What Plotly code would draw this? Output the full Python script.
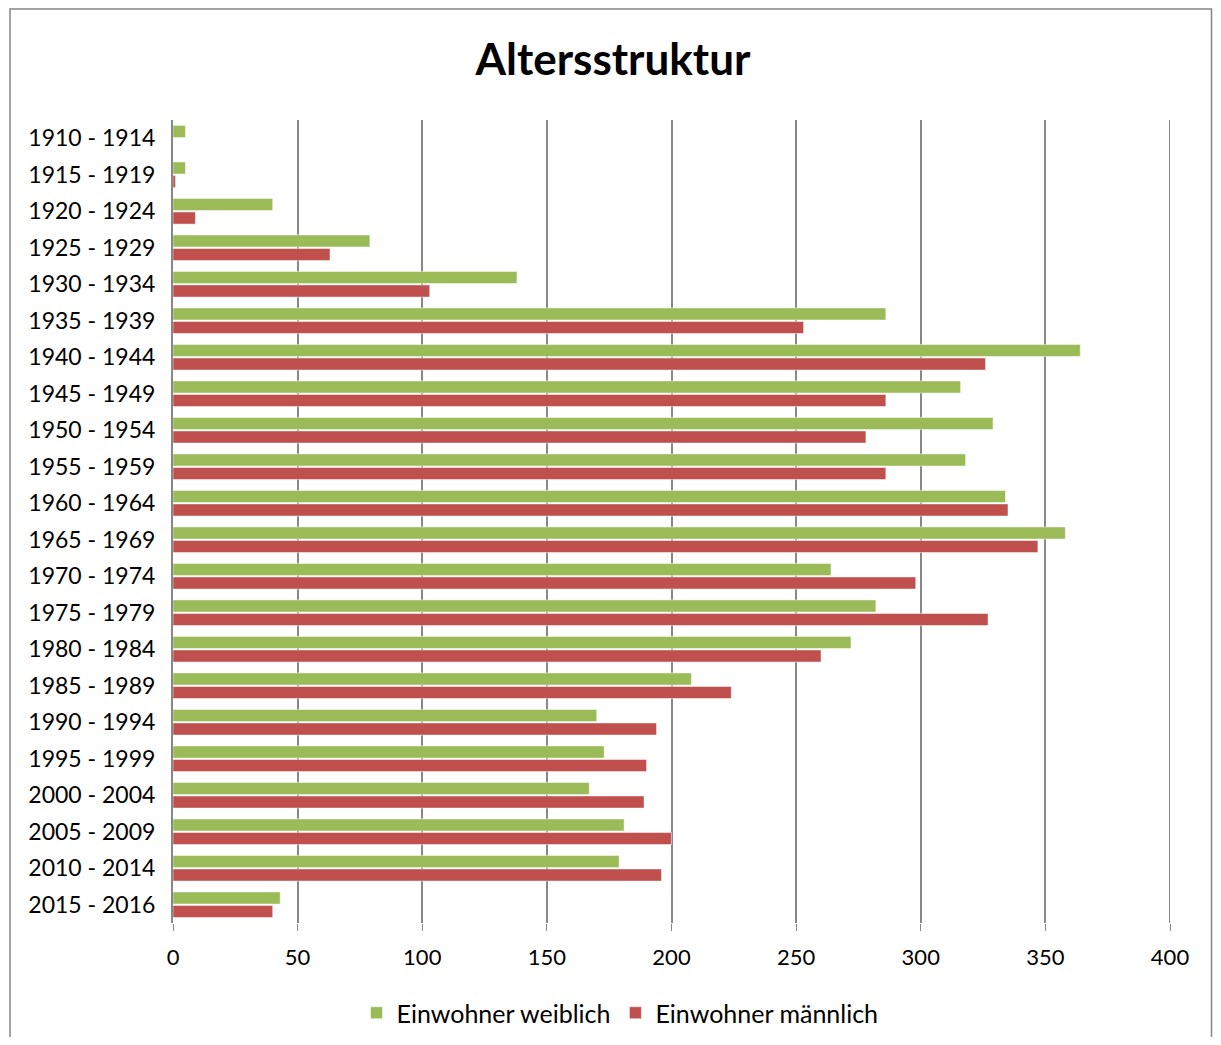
import plotly.graph_objects as go

categories = ["1910 - 1914", "1915 - 1919", "1920 - 1924", "1925 - 1929", "1930 - 1934",
              "1935 - 1939", "1940 - 1944", "1945 - 1949", "1950 - 1954", "1955 - 1959",
              "1960 - 1964", "1965 - 1969", "1970 - 1974", "1975 - 1979", "1980 - 1984",
              "1985 - 1989", "1990 - 1994", "1995 - 1999", "2000 - 2004", "2005 - 2009",
              "2010 - 2014", "2015 - 2016"]
weiblich = [5, 5, 40, 79, 138, 286, 364, 316, 329, 318, 334, 358, 264, 282, 272, 208,
            170, 173, 167, 181, 179, 43]
maennlich = [0, 1, 9, 63, 103, 253, 326, 286, 278, 286, 335, 347, 298, 327, 260, 224,
             194, 190, 189, 200, 196, 40]
x_ticks = [0, 50, 100, 150, 200, 250, 300, 350, 400]

FONT = "Lato"
GREEN = "#9BBB59"
RED = "#C0504D"
GRID = "#878787"

W, H = 1205, 1029  # page has 8px body margin on each side; avoid scrollbars

fig = go.Figure()
fig.add_trace(go.Bar(y=categories, x=weiblich, orientation="h", name="Einwohner weiblich",
                     marker=dict(color=GREEN, line=dict(color="rgba(255,255,255,0.5)", width=1))))
fig.add_trace(go.Bar(y=categories, x=maennlich, orientation="h", name="Einwohner männlich",
                     marker=dict(color=RED, line=dict(color="rgba(255,255,255,0.5)", width=1))))

fig.update_layout(
    width=W, height=H,
    margin=dict(l=165, r=43, t=112, b=114, autoexpand=False),
    paper_bgcolor="white", plot_bgcolor="white",
    barmode="group", bargap=0.26, bargroupgap=0.1,
    font=dict(family=FONT, color="black", size=22),
    title=dict(text="<b>Altersstruktur</b>", x=(613 - 8) / W, xanchor="center", y=1 - 52 / H,
               yanchor="middle", font=dict(family=FONT, size=44, color="black")),
    showlegend=True,
    legend=dict(orientation="h", x=(620 - 173) / 997, xanchor="center", y=(923 - 1013) / 803,
                yanchor="middle", font=dict(family=FONT, size=25), traceorder="normal",
                itemwidth=30),
    xaxis=dict(range=[x_ticks[0], x_ticks[-1]], tickvals=x_ticks, showgrid=True,
               gridcolor=GRID, gridwidth=2,
               zeroline=False, showline=False, ticks="outside", ticklen=7, tickcolor=GRID,
               tickwidth=1, ticklabelstandoff=8, tickfont=dict(size=22)),
    yaxis=dict(autorange="reversed", type="category", showgrid=False, showline=True,
               linecolor=GRID, linewidth=2, ticks="", ticklabelstandoff=11,
               tickfont=dict(size=23)),
    shapes=[
        dict(type="rect", xref="paper", yref="paper",
             x0=(10 - 173) / 997, x1=(1211.5 - 173) / 997,
             y0=(923 - 1060) / 803, y1=(923 - 9) / 803,
             line=dict(color="#868686", width=1.5), fillcolor="rgba(0,0,0,0)", layer="below"),
        # gridline at the right end of the value axis
        dict(type="line", xref="x", yref="paper", x0=x_ticks[-1], x1=x_ticks[-1], y0=0, y1=1,
             line=dict(color=GRID, width=2), layer="below"),
    ],
)

fig.write_html("out.html")
